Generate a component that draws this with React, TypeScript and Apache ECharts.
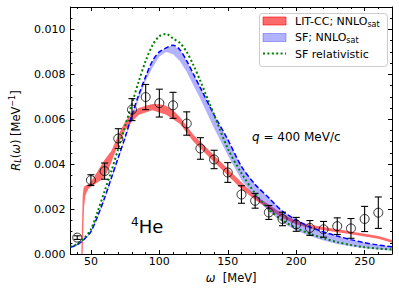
import React, { useEffect, useRef } from "react";
import * as echarts from "echarts";

const FONT = "DejaVu Sans";

// Experimental data points (omega [MeV], R_L [MeV^-1], error)
const expOmega = [40, 50, 60, 70, 80, 90, 100, 110, 120, 130, 140, 150, 160, 170, 180, 190, 200, 210, 220, 230, 240, 250, 260];
const expR = [0.00073, 0.00329, 0.00369, 0.00514, 0.00643, 0.00699, 0.00672, 0.00662, 0.00581, 0.0047, 0.00421, 0.00363, 0.00265, 0.00237, 0.00185, 0.00156, 0.00132, 0.00116, 0.0011, 0.00124, 0.00114, 0.00156, 0.00184];
const expErr = [0.00008, 0.00024, 0.00036, 0.00044, 0.00049, 0.00056, 0.00062, 0.00058, 0.00052, 0.00048, 0.00041, 0.00044, 0.00039, 0.00033, 0.00031, 0.0003, 0.00031, 0.00033, 0.00035, 0.00037, 0.00044, 0.00056, 0.0007];

// LIT-CC; NNLOsat band
const litOmega = [43, 44, 44.5, 45, 46, 48, 50, 55, 60, 65, 70, 75, 80, 85, 90, 95, 100, 105, 110, 115, 120, 125, 130, 140, 150, 160, 170, 180, 190, 200, 210, 220, 230, 240, 250, 260, 270];
const litHigh = [0, 0.0026, 0.0029, 0.003, 0.00305, 0.0031, 0.00322, 0.0037, 0.0042, 0.0046, 0.0053, 0.0059, 0.0063, 0.0065, 0.0066, 0.00668, 0.00667, 0.0066, 0.0064, 0.0061, 0.0057, 0.0053, 0.005, 0.0044, 0.0038, 0.0032, 0.0026, 0.0022, 0.00178, 0.00148, 0.0013, 0.0012, 0.0011, 0.001, 0.0009, 0.0008, 0.00062];
const litLow = [0, 0, 0.0012, 0.0021, 0.0026, 0.0029, 0.003, 0.0032, 0.0034, 0.0041, 0.0049, 0.0055, 0.0059, 0.0062, 0.0063, 0.0064, 0.0063, 0.0062, 0.006, 0.0058, 0.0054, 0.005, 0.0047, 0.0041, 0.0035, 0.0029, 0.0024, 0.002, 0.0016, 0.00132, 0.00115, 0.00106, 0.00097, 0.00088, 0.00078, 0.00068, 0.0005];

// SF; NNLOsat band (upper edge dashed) and SF relativistic
const sfOmega = [35, 40, 45, 50, 55, 60, 65, 70, 75, 80, 85, 90, 95, 100, 105, 110, 115, 120, 125, 130, 140, 150, 160, 170, 180, 190, 200, 210, 220, 230, 240, 250, 260, 270];
const sfHigh = [0.0003, 0.00042, 0.00065, 0.001, 0.0017, 0.0025, 0.0034, 0.0043, 0.0052, 0.0062, 0.0071, 0.0079, 0.0086, 0.009, 0.00918, 0.0093, 0.0091, 0.0086, 0.008, 0.0074, 0.0062, 0.0051, 0.0039, 0.0031, 0.0025, 0.0019, 0.00152, 0.0012, 0.00098, 0.0008, 0.00064, 0.0005, 0.0004, 0.00032];
const sfLow = [0.00028, 0.00038, 0.0006, 0.00092, 0.0016, 0.0024, 0.0033, 0.0042, 0.0051, 0.006, 0.0069, 0.0077, 0.0083, 0.0088, 0.009, 0.0089, 0.0086, 0.0081, 0.0075, 0.0069, 0.0056, 0.0044, 0.0033, 0.0025, 0.0019, 0.0014, 0.00105, 0.0008, 0.0006, 0.00045, 0.00034, 0.00026, 0.0002, 0.00014];
const sfRel = [0.00032, 0.00045, 0.0007, 0.0011, 0.0019, 0.0028, 0.0037, 0.0047, 0.0057, 0.0067, 0.0077, 0.0086, 0.0093, 0.0097, 0.0098, 0.0096, 0.0094, 0.009, 0.0084, 0.0077, 0.0062, 0.0047, 0.0036, 0.0027, 0.002, 0.0015, 0.00115, 0.0009, 0.0007, 0.00053, 0.0004, 0.0003, 0.00024, 0.0002];

// Axis ticks
const xMajor = [50, 100, 150, 200, 250];
const xMinor = [40, 60, 70, 80, 90, 110, 120, 130, 140, 160, 170, 180, 190, 210, 220, 230, 240, 260];
const yMajor = [0, 0.002, 0.004, 0.006, 0.008, 0.01];
const yMinor = [0.0005, 0.001, 0.0015, 0.0025, 0.003, 0.0035, 0.0045, 0.005, 0.0055, 0.0065, 0.007, 0.0075, 0.0085, 0.009, 0.0095, 0.0105];

const X_MIN = 35;
const X_MAX = 270;
const Y_MIN = 0;
const Y_MAX = 0.011;

const RED_FILL = "rgba(255,0,0,0.58)";
const BLUE_FILL = "rgba(0,0,255,0.3)";

function xAxisDef(position: string, values: number[], len: number, main: boolean, labels: boolean, extra: any = {}) {
  return {
    type: "value",
    min: X_MIN,
    max: X_MAX,
    position,
    axisLine: { show: main, onZero: false, lineStyle: { color: "#000", width: 1 } },
    axisTick: { show: true, inside: true, length: len, customValues: values, lineStyle: { color: "#000", width: 1 } },
    axisLabel: labels
      ? { show: true, customValues: values, margin: 2, color: "#000", fontFamily: FONT, fontSize: 11 }
      : { show: false },
    splitLine: { show: false },
    ...extra,
  };
}

function yAxisDef(position: string, values: number[], len: number, main: boolean, labels: boolean, extra: any = {}) {
  return {
    type: "value",
    min: Y_MIN,
    max: Y_MAX,
    position,
    axisLine: { show: main, onZero: false, lineStyle: { color: "#000", width: 1 } },
    axisTick: { show: true, inside: true, length: len, customValues: values, lineStyle: { color: "#000", width: 1 } },
    axisLabel: labels
      ? {
          show: true,
          customValues: values,
          margin: 5,
          color: "#000",
          fontFamily: FONT,
          fontSize: 11,
          formatter: (v: number) => v.toFixed(3),
        }
      : { show: false },
    splitLine: { show: false },
    ...extra,
  };
}

function bandSeries(omega: number[], low: number[], high: number[], fill: string, z: number) {
  return {
    type: "custom",
    z,
    silent: true,
    data: [[omega[0], low[0]]],
    renderItem: (params: any, api: any) => {
      const pts: number[][] = [];
      for (let i = 0; i < omega.length; i++) pts.push(api.coord([omega[i], high[i]]));
      for (let i = omega.length - 1; i >= 0; i--) pts.push(api.coord([omega[i], low[i]]));
      return {
        type: "polygon",
        shape: { points: pts, smooth: 0 },
        style: { fill, stroke: "none" },
      };
    },
  };
}

export default function App() {
  const ref = useRef<HTMLDivElement>(null);
  useEffect(() => {
    if (!ref.current) return;
    const chart = echarts.init(ref.current, undefined, { renderer: "svg" });
    const option: any = {
      animation: false,
      backgroundColor: "#fff",
      textStyle: { fontFamily: FONT },
      grid: { left: 60, right: 7, top: 7, bottom: 37, containLabel: false },
      xAxis: [
        xAxisDef("bottom", xMajor, 4, true, true, {
          name: "{i|ω}  [MeV]",
          nameLocation: "middle",
          nameGap: 16,
          nameTextStyle: {
            color: "#000",
            fontFamily: FONT,
            fontSize: 11.5,
            rich: { i: { fontStyle: "italic", fontFamily: FONT, fontSize: 11.5, color: "#000" } },
          },
        }),
        xAxisDef("bottom", xMinor, 2, false, false),
        xAxisDef("top", xMajor, 4, true, false),
        xAxisDef("top", xMinor, 2, false, false),
      ],
      yAxis: [
        yAxisDef("left", yMajor, 4, true, true, {
          name: "{i|R}{isub|L}{n|(}{i|ω}{n|)} [MeV{sup|−1}]",
          nameLocation: "middle",
          nameGap: 38,
          nameTextStyle: {
            color: "#000",
            fontFamily: FONT,
            fontSize: 11.5,
            rich: {
              i: { fontStyle: "italic", fontFamily: FONT, fontSize: 11.5, color: "#000" },
              n: { fontFamily: FONT, fontSize: 11.5, color: "#000" },
              isub: { fontStyle: "italic", fontFamily: FONT, fontSize: 8, lineHeight: 8, padding: [6, 0, 0, 0], color: "#000" },
              sup: { fontFamily: FONT, fontSize: 8, lineHeight: 8, padding: [0, 0, 7, 0], color: "#000" },
            },
          },
        }),
        yAxisDef("left", yMinor, 2, false, false),
        yAxisDef("right", yMajor, 4, true, false),
        yAxisDef("right", yMinor, 2, false, false),
      ],
      series: [
        bandSeries(litOmega, litLow, litHigh, RED_FILL, 2),
        bandSeries(sfOmega, sfLow, sfHigh, BLUE_FILL, 3),
        {
          type: "line",
          z: 4,
          silent: true,
          showSymbol: false,
          smooth: 0.3,
          data: sfOmega.map((x, i) => [x, sfHigh[i]]),
          lineStyle: { color: "#0000ff", width: 1.5, type: [5, 2.5] },
        },
        {
          type: "line",
          z: 5,
          silent: true,
          showSymbol: false,
          smooth: 0.3,
          data: sfOmega.map((x, i) => [x, sfRel[i]]),
          lineStyle: { color: "#008000", width: 2, type: [2, 2.4] },
        },
        {
          type: "custom",
          z: 6,
          silent: true,
          data: expOmega.map((x, i) => [x, expR[i] - expErr[i], expR[i] + expErr[i]]),
          renderItem: (params: any, api: any) => {
            const x = api.value(0);
            const lo = api.coord([x, api.value(1)]);
            const hi = api.coord([x, api.value(2)]);
            const cap = 3.5;
            const st = { stroke: "#000", lineWidth: 1.1 };
            return {
              type: "group",
              children: [
                { type: "line", shape: { x1: lo[0], y1: lo[1], x2: hi[0], y2: hi[1] }, style: st },
                { type: "line", shape: { x1: lo[0] - cap, y1: lo[1], x2: lo[0] + cap, y2: lo[1] }, style: st },
                { type: "line", shape: { x1: hi[0] - cap, y1: hi[1], x2: hi[0] + cap, y2: hi[1] }, style: st },
              ],
            };
          },
        },
        {
          type: "scatter",
          z: 7,
          silent: true,
          symbol: "circle",
          symbolSize: 9,
          data: expOmega.map((x, i) => [x, expR[i]]),
          itemStyle: { color: "rgba(0,0,0,0)", borderColor: "#000", borderWidth: 1 },
        },
      ],
      graphic: [
        {
          type: "rect",
          z: 100,
          shape: { x: 259.5, y: 13.5, width: 128, height: 53, r: 3 },
          style: { fill: "rgba(255,255,255,0.85)", stroke: "#cccccc", lineWidth: 1 },
        },
        {
          type: "rect",
          z: 101,
          shape: { x: 263, y: 17, width: 23, height: 8 },
          style: { fill: RED_FILL, stroke: RED_FILL, lineWidth: 1 },
        },
        {
          type: "text",
          z: 101,
          x: 295,
          y: 21.5,
          style: {
            text: "LIT-CC; NNLO{sub|sat}",
            fill: "#000",
            fontFamily: FONT,
            fontSize: 11,
            verticalAlign: "middle",
            rich: { sub: { fontFamily: FONT, fontSize: 8, lineHeight: 8, padding: [6, 0, 0, 0], fill: "#000" } },
          },
        },
        {
          type: "rect",
          z: 101,
          shape: { x: 263, y: 33.5, width: 23, height: 8 },
          style: { fill: BLUE_FILL, stroke: BLUE_FILL, lineWidth: 1 },
        },
        {
          type: "text",
          z: 101,
          x: 295,
          y: 37.5,
          style: {
            text: "SF; NNLO{sub|sat}",
            fill: "#000",
            fontFamily: FONT,
            fontSize: 11,
            verticalAlign: "middle",
            rich: { sub: { fontFamily: FONT, fontSize: 8, lineHeight: 8, padding: [6, 0, 0, 0], fill: "#000" } },
          },
        },
        {
          type: "line",
          z: 101,
          shape: { x1: 263, y1: 53.5, x2: 286, y2: 53.5 },
          style: { stroke: "#008000", lineWidth: 2, lineDash: [2, 2.4] },
        },
        {
          type: "text",
          z: 101,
          x: 295,
          y: 54,
          style: { text: "SF relativistic", fill: "#000", fontFamily: FONT, fontSize: 11, verticalAlign: "middle" },
        },
        {
          type: "text",
          z: 101,
          x: 252,
          y: 137,
          style: {
            text: "{i|q} = 400 MeV/c",
            fill: "#000",
            fontFamily: FONT,
            fontSize: 12,
            verticalAlign: "middle",
            rich: { i: { fontStyle: "italic", fontFamily: FONT, fontSize: 12, fill: "#000" } },
          },
        },
        {
          type: "text",
          z: 101,
          x: 131,
          y: 226,
          style: {
            text: "{sup|4}He",
            fill: "#000",
            fontFamily: FONT,
            fontSize: 18,
            verticalAlign: "middle",
            rich: { sup: { fontFamily: FONT, fontSize: 12, lineHeight: 12, padding: [0, 0, 9, 0], fill: "#000" } },
          },
        },
      ],
    };
    chart.setOption(option);
    return () => chart.dispose();
  }, []);
  return (
    <div
      ref={ref}
      style={{ position: "fixed", left: 0, top: 0, width: 399, height: 291, background: "#fff" }}
    />
  );
}
